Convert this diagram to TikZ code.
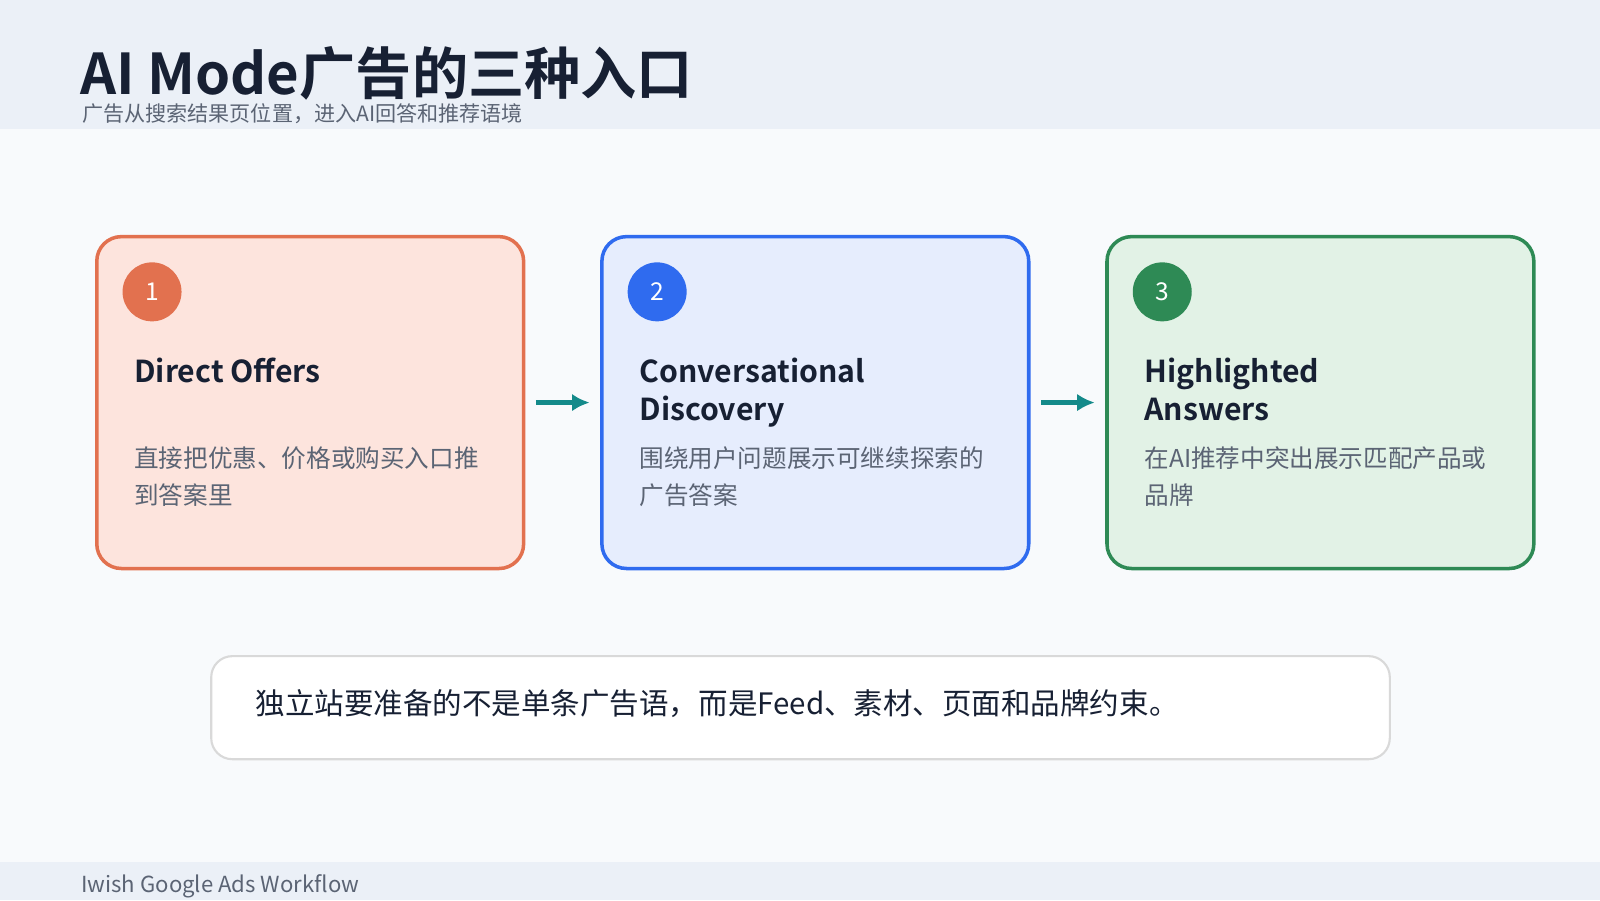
\documentclass[tikz,border=0pt]{standalone}
\usepackage{fontspec}
\setmainfont{Noto Sans CJK SC}[BoldFont={Noto Sans CJK SC Bold}]
\usetikzlibrary{positioning,arrows.meta}
\definecolor{bandgray}{HTML}{EBF0F7}
\definecolor{pagebg}{HTML}{F8FAFC}
\definecolor{inkdark}{HTML}{172033}
\definecolor{inkgray}{HTML}{5B6474}
\definecolor{cardA}{HTML}{E2714F}\definecolor{fillA}{HTML}{FDE4DD}
\definecolor{cardB}{HTML}{2F6BEF}\definecolor{fillB}{HTML}{E6EDFD}
\definecolor{cardC}{HTML}{2E8A55}\definecolor{fillC}{HTML}{E2F2E6}
\definecolor{flowteal}{HTML}{148A8A}
\tikzset{
  card/.style={draw=#1,line width=1pt,rounded corners=7pt,minimum width=4.27cm,minimum height=3.32cm},
  badge/.style={circle,fill=#1,minimum size=0.59cm,inner sep=0pt,text=white,font=\fontsize{7}{8}\selectfont},
  cardtitle/.style={anchor=north west,align=left,text=inkdark,font=\bfseries\fontsize{8.6}{10.8}\selectfont},
  carddesc/.style={anchor=north west,align=left,text=inkgray,font=\fontsize{7}{10.5}\selectfont},
  flow/.style={-{Latex[length=5pt,width=5pt]},draw=flowteal,line width=1.2pt,shorten <=3pt,shorten >=3pt}
}
\begin{document}
\begin{tikzpicture}[x=0.010204cm,y=-0.010204cm]
  \useasboundingbox (0,0) rectangle (1568,882);
  \fill[pagebg] (0,0) rectangle (1568,882);
  \fill[bandgray] (0,0) rectangle (1568,126);
  \fill[bandgray] (0,845) rectangle (1568,882);
  % header
  \node[anchor=base west,inner sep=0pt,text=inkdark,font=\bfseries\fontsize{16}{20}\selectfont] (title) at (78,93) {AI Mode广告的三种入口};
  \node[anchor=base west,inner sep=0pt,text=inkgray,font=\fontsize{6}{7}\selectfont] (subtitle) at (80,119) {广告从搜索结果页位置，进入AI回答和推荐语境};
  % cards
  \node[card=cardA,fill=fillA] (cardA) at (304,394.5) {};
  \node[card=cardB,fill=fillB] (cardB) at (799,394.5) {};
  \node[card=cardC,fill=fillC] (cardC) at (1294,394.5) {};
  \node[badge=cardA] (badgeA) at (149,286) {1};
  \node[badge=cardB] (badgeB) at (644,286) {2};
  \node[badge=cardC] (badgeC) at (1139,286) {3};
  \node[cardtitle,inner sep=0pt] (titleA) at (131,350) {Direct Offers};
  \node[cardtitle,inner sep=0pt] (titleB) at (626,350) {Conversational\\Discovery};
  \node[cardtitle,inner sep=0pt] (titleC) at (1121,350) {Highlighted\\Answers};
  \node[carddesc,inner sep=0pt] (descA) at (131,437) {直接把优惠、价格或购买入口推\\到答案里};
  \node[carddesc,inner sep=0pt] (descB) at (626,437) {围绕用户问题展示可继续探索的\\广告答案};
  \node[carddesc,inner sep=0pt] (descC) at (1121,437) {在AI推荐中突出展示匹配产品或\\品牌};
  \draw[flow] (cardA) -- (cardB);
  \draw[flow] (cardB) -- (cardC);
  % note
  \draw[fill=white,draw=black!15,line width=0.6pt,rounded corners=6pt] (207,643) rectangle (1362,744);
  \node[anchor=base west,inner sep=0pt,text=inkdark,font=\fontsize{8.4}{10}\selectfont] (note) at (250,700) {独立站要准备的不是单条广告语，而是Feed、素材、页面和品牌约束。};
  % footer
  \node[anchor=base west,inner sep=0pt,text=inkgray,font=\fontsize{6.3}{8}\selectfont] (footer) at (79,875) {Iwish Google Ads Workflow};
\end{tikzpicture}
\end{document}
